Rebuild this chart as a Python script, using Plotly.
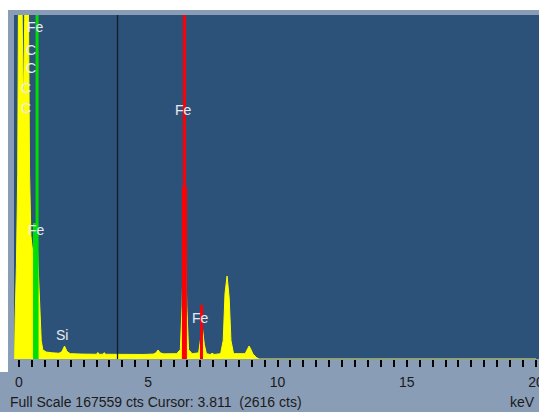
import plotly.graph_objects as go

# ---- data ----
full_scale = 167559
cursor_kev = 3.811
cursor_cts = 2616

energy_kev = [-0.19, -0.17, -0.15, -0.10, -0.05, -0.02, 0.06, 0.12, 0.17, 0.22, 0.30, 0.37,
              0.41, 0.46, 0.53, 0.60, 0.68, 0.74, 0.78, 0.82, 0.86, 0.92, 1.05, 1.30, 1.55,
              1.66, 1.76, 1.86, 1.98, 2.40, 2.90, 3.00, 3.05, 3.10, 3.25, 3.30, 3.35, 4.00,
              4.80, 5.20, 5.30, 5.38, 5.46, 5.60, 6.10, 6.24, 6.31, 6.40, 6.49, 6.56, 6.70,
              6.95, 7.01, 7.09, 7.17, 7.25, 7.40, 7.47, 7.55, 7.80, 7.90, 7.97, 8.05, 8.13,
              8.20, 8.30, 8.75, 8.84, 8.90, 8.96, 9.05, 9.20, 9.30, 12.0, 16.0, 20.0]
counts =     [0, 0, 20000, 45000, 90000, 170000, 400000, 170000, 120000, 165000, 400000, 165000,
              90000, 60000, 52000, 58000, 64000, 45000, 32000, 20000, 9000, 4500, 3400, 3000,
              2800, 3600, 6300, 3600, 2600, 2400, 2300, 2300, 3200, 2300, 2300, 3100, 2300,
              2200, 2200, 2400, 3000, 4400, 3000, 2500, 2600, 4500, 26000, 84000, 26000, 4500,
              2600, 3000, 9000, 15600, 7000, 2600, 2200, 2800, 2200, 2600, 9000, 32000, 40400,
              30000, 9000, 2600, 2600, 5000, 6300, 5000, 2400, 600, 0, 0, 0, 0]

# element markers: energy, full marker height, filled peak height, colour
marker_kev = [0.70, 6.40, 7.06]
marker_top = [full_scale, full_scale, 26300]
marker_peak = [66200, 83800, 0]
marker_color = ["#00e000", "#ff0000", "#ff0000"]

# element labels
label_text = ["Fe", "C", "C", "C", "C", "Fe", "Si", "Fe", "Fe"]
label_kev = [0.64, 0.46, 0.46, 0.27, 0.27, 0.68, 1.66, 6.36, 7.02]
label_cts = [161700, 150500, 141700, 132000, 122300, 62800, 11700, 121300, 20000]

tick_major = [0, 5, 10, 15, 20]
tick_all = [i * 0.5 for i in range(41)]

FONT = "Liberation Sans, Arial"
PLOT_BG = "rgb(45,82,122)"

# ---- figure ----
fig = go.Figure()

fig.add_trace(go.Scatter(x=energy_kev, y=counts, mode="lines", fill="tozeroy",
                         line=dict(color="#ffff00", width=1), fillcolor="#ffff00",
                         hoverinfo="skip", showlegend=False))

for e, h, c in zip(marker_kev, marker_peak, marker_color):
    if h > 0:
        ex = e - 0.06 if c == "#00e000" else e
        fig.add_trace(go.Scatter(x=[ex, ex], y=[0, h], mode="lines",
                                 line=dict(color=c, width=5), hoverinfo="skip", showlegend=False))
for e, h, c in zip(marker_kev, marker_top, marker_color):
    fig.add_trace(go.Scatter(x=[e, e], y=[0, h], mode="lines",
                             line=dict(color=c, width=3), hoverinfo="skip", showlegend=False))

fig.add_shape(type="line", xref="x", yref="paper", x0=cursor_kev, x1=cursor_kev, y0=0, y1=1,
              line=dict(color="#151a24", width=1.3))

for t, x, y in zip(label_text, label_kev, label_cts):
    fig.add_annotation(x=x, y=y, text=t, showarrow=False, xanchor="center", yanchor="middle",
                       font=dict(family=FONT, size=14, color="#e6ebf2"))

fig.add_shape(type="rect", xref="paper", yref="paper", x0=-0.0267, x1=1.0, y0=1.0145, y1=1.0436,
              fillcolor="white", line_width=0, layer="above")
fig.add_shape(type="rect", xref="paper", yref="paper", x0=-0.0267, x1=-0.0114, y0=-0.038, y1=1.0436,
              fillcolor="white", line_width=0, layer="above")

fig.add_annotation(xref="paper", yref="paper", x=-0.0115, y=-0.125, xanchor="left", yanchor="middle",
                   text=f"Full Scale {full_scale} cts Cursor: {cursor_kev:.3f}  ({cursor_cts} cts)",
                   showarrow=False, font=dict(family=FONT, size=14, color="#1a1a1a"))
fig.add_annotation(xref="paper", yref="paper", x=0.997, y=-0.125, xanchor="right", yanchor="middle",
                   text="keV", showarrow=False,
                   font=dict(family=FONT, size=14, color="#1a1a1a"))

fig.update_layout(
    width=539, height=412,
    margin=dict(l=14, r=0, t=15, b=53),
    paper_bgcolor="rgb(138,157,182)",
    plot_bgcolor=PLOT_BG,
    showlegend=False,
    font=dict(family=FONT, size=14, color="#1a1a1a"),
)
fig.update_xaxes(range=[-0.193, 20.116], showgrid=False, zeroline=False, showline=False,
                 automargin=False,
                 tickmode="array", tickvals=tick_all,
                 ticktext=[str(int(v)) if v in tick_major else "" for v in tick_all],
                 ticks="outside", ticklen=7, tickwidth=2, tickcolor="#000000",
                 ticklabelstandoff=3, ticklabeloverflow="allow")
fig.update_yaxes(range=[0, full_scale], visible=False)

fig.write_html("out.html", config={"displayModeBar": False},
               post_script="document.documentElement.style.overflow='hidden';"
                           "document.body.style.margin='0';document.body.style.overflow='hidden';")
